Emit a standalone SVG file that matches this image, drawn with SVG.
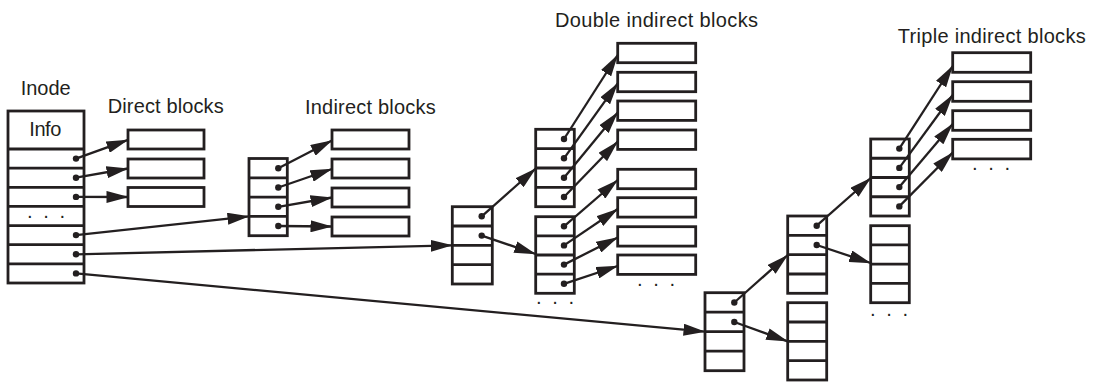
<svg xmlns="http://www.w3.org/2000/svg" width="1097" height="388" viewBox="0 0 1097 388">
<style>
.box{fill:#fff;stroke:#231f20;stroke-width:2.8}
.sep{stroke:#231f20;stroke-width:2.8}
.lbl{font-family:"Liberation Sans",Arial,sans-serif;font-size:20px;fill:#231f20}
.ell{font-family:"Liberation Sans",Arial,sans-serif;font-size:20px;fill:#231f20;letter-spacing:2px}
.arr{stroke:#231f20;stroke-width:2.3;fill:none;marker-start:url(#dot);marker-end:url(#head)}
</style>
<defs>
<marker id="head" markerUnits="userSpaceOnUse" markerWidth="22" markerHeight="12" refX="21.5" refY="6" orient="auto"><path d="M0,0 L22,6 L0,12 Z" fill="#231f20"/></marker>
<marker id="dot" markerUnits="userSpaceOnUse" markerWidth="8" markerHeight="8" refX="4" refY="4"><circle cx="4" cy="4" r="3.2" fill="#231f20"/></marker>
</defs>
<rect width="1097" height="388" fill="#fff"/>

<g id="labels">
<text class="lbl" x="20.7" y="95" textLength="50">Inode</text>
<text class="lbl" x="107.7" y="112.5" textLength="116">Direct blocks</text>
<text class="lbl" x="305" y="114" textLength="130.7">Indirect blocks</text>
<text class="lbl" x="555" y="27.3" textLength="203">Double indirect blocks</text>
<text class="lbl" x="897.7" y="43.3" textLength="188">Triple indirect blocks</text>
</g>

<g id="inode">
<rect class="box" x="8" y="111" width="76" height="172"/>
<line class="sep" x1="8" y1="149" x2="84" y2="149"/>
<line class="sep" x1="8" y1="168.1" x2="84" y2="168.1"/>
<line class="sep" x1="8" y1="187.3" x2="84" y2="187.3"/>
<line class="sep" x1="8" y1="206.4" x2="84" y2="206.4"/>
<line class="sep" x1="8" y1="225.6" x2="84" y2="225.6"/>
<line class="sep" x1="8" y1="244.7" x2="84" y2="244.7"/>
<line class="sep" x1="8" y1="263.9" x2="84" y2="263.9"/>
<text class="lbl" x="29.3" y="136" textLength="32">Info</text>
<text class="ell" x="47" y="222" text-anchor="middle">· · ·</text>
</g>

<g id="direct-blocks">
<rect class="box" x="128" y="130" width="76" height="19"/>
<rect class="box" x="128" y="159" width="76" height="19"/>
<rect class="box" x="128" y="187.5" width="76" height="19"/>
</g>

<g id="single-indirect">
<rect class="box" x="249" y="158.5" width="38.3" height="77.2"/>
<line class="sep" x1="249" y1="177.8" x2="287.3" y2="177.8"/>
<line class="sep" x1="249" y1="197.1" x2="287.3" y2="197.1"/>
<line class="sep" x1="249" y1="216.4" x2="287.3" y2="216.4"/>
</g>

<g id="indirect-blocks">
<rect class="box" x="332" y="130" width="77" height="19"/>
<rect class="box" x="332" y="159" width="77" height="19"/>
<rect class="box" x="332" y="188" width="77" height="19"/>
<rect class="box" x="332" y="217" width="77" height="19"/>
</g>

<g id="double-indirect">
<rect class="box" x="452.3" y="206.7" width="40" height="77.3"/>
<line class="sep" x1="452.3" y1="226" x2="492.3" y2="226"/>
<line class="sep" x1="452.3" y1="245.3" x2="492.3" y2="245.3"/>
<line class="sep" x1="452.3" y1="264.7" x2="492.3" y2="264.7"/>
</g>

<g id="double-l2-upper">
<rect class="box" x="535.7" y="129.3" width="38.6" height="77.4"/>
<line class="sep" x1="535.7" y1="148.7" x2="574.3" y2="148.7"/>
<line class="sep" x1="535.7" y1="168" x2="574.3" y2="168"/>
<line class="sep" x1="535.7" y1="187.4" x2="574.3" y2="187.4"/>
</g>

<g id="double-l2-lower">
<rect class="box" x="535.7" y="216.7" width="38.6" height="76.6"/>
<line class="sep" x1="535.7" y1="235.9" x2="574.3" y2="235.9"/>
<line class="sep" x1="535.7" y1="255" x2="574.3" y2="255"/>
<line class="sep" x1="535.7" y1="274.2" x2="574.3" y2="274.2"/>
<text class="ell" x="556" y="308" text-anchor="middle">· · ·</text>
</g>

<g id="double-data-blocks">
<rect class="box" x="617.7" y="43.3" width="78" height="19.4"/>
<rect class="box" x="617.7" y="72.3" width="78" height="19.4"/>
<rect class="box" x="617.7" y="101" width="78" height="19.4"/>
<rect class="box" x="617.7" y="130" width="78" height="19.4"/>
<rect class="box" x="617.7" y="169.3" width="78" height="19.4"/>
<rect class="box" x="617.7" y="197.7" width="78" height="19.4"/>
<rect class="box" x="617.7" y="226.7" width="78" height="19.4"/>
<rect class="box" x="617.7" y="255" width="78" height="19.4"/>
<text class="ell" x="657" y="290" text-anchor="middle">· · ·</text>
</g>

<g id="triple-indirect">
<rect class="box" x="705" y="292.7" width="39" height="78"/>
<line class="sep" x1="705" y1="312.2" x2="744" y2="312.2"/>
<line class="sep" x1="705" y1="331.7" x2="744" y2="331.7"/>
<line class="sep" x1="705" y1="351.2" x2="744" y2="351.2"/>
</g>

<g id="triple-l2-upper">
<rect class="box" x="787.7" y="216" width="39" height="77.3"/>
<line class="sep" x1="787.7" y1="235.3" x2="826.7" y2="235.3"/>
<line class="sep" x1="787.7" y1="254.7" x2="826.7" y2="254.7"/>
<line class="sep" x1="787.7" y1="274" x2="826.7" y2="274"/>
</g>

<g id="triple-l2-lower">
<rect class="box" x="787.7" y="302.7" width="39" height="77.3"/>
<line class="sep" x1="787.7" y1="322" x2="826.7" y2="322"/>
<line class="sep" x1="787.7" y1="341.4" x2="826.7" y2="341.4"/>
<line class="sep" x1="787.7" y1="360.7" x2="826.7" y2="360.7"/>
</g>

<g id="triple-l3-upper">
<rect class="box" x="870.7" y="139" width="38.6" height="77"/>
<line class="sep" x1="870.7" y1="158.25" x2="909.3" y2="158.25"/>
<line class="sep" x1="870.7" y1="177.5" x2="909.3" y2="177.5"/>
<line class="sep" x1="870.7" y1="196.75" x2="909.3" y2="196.75"/>
</g>

<g id="triple-l3-lower">
<rect class="box" x="870.7" y="225.7" width="38.6" height="77"/>
<line class="sep" x1="870.7" y1="244.95" x2="909.3" y2="244.95"/>
<line class="sep" x1="870.7" y1="264.2" x2="909.3" y2="264.2"/>
<line class="sep" x1="870.7" y1="283.45" x2="909.3" y2="283.45"/>
<text class="ell" x="890" y="320" text-anchor="middle">· · ·</text>
</g>

<g id="triple-data-blocks">
<rect class="box" x="952.7" y="52.7" width="78" height="19.6"/>
<rect class="box" x="952.7" y="81.7" width="78" height="19.6"/>
<rect class="box" x="952.7" y="110.7" width="78" height="19.6"/>
<rect class="box" x="952.7" y="139.3" width="78" height="19.6"/>
<text class="ell" x="992" y="174" text-anchor="middle">· · ·</text>
</g>

<g id="connectors">
<line class="arr" x1="76" y1="158.6" x2="128" y2="139.8"/>
<line class="arr" x1="76" y1="177.7" x2="128" y2="168.5"/>
<line class="arr" x1="76" y1="196.9" x2="128" y2="197"/>
<line class="arr" x1="76" y1="235.1" x2="249" y2="216.4"/>
<line class="arr" x1="76" y1="254.3" x2="452.3" y2="245.3"/>
<line class="arr" x1="76" y1="273.4" x2="705" y2="331.7"/>

<line class="arr" x1="278.3" y1="168.2" x2="332" y2="140.5"/>
<line class="arr" x1="278.3" y1="187.5" x2="332" y2="169"/>
<line class="arr" x1="278.3" y1="206.8" x2="332" y2="197.5"/>
<line class="arr" x1="278.3" y1="226" x2="332" y2="226.5"/>

<line class="arr" x1="481.7" y1="216.3" x2="535.7" y2="168.5"/>
<line class="arr" x1="481.7" y1="235.6" x2="535.7" y2="254"/>

<line class="arr" x1="564" y1="139" x2="617.7" y2="55"/>
<line class="arr" x1="564" y1="158.3" x2="617.7" y2="83.3"/>
<line class="arr" x1="564" y1="177.7" x2="617.7" y2="112.5"/>
<line class="arr" x1="564" y1="197" x2="617.7" y2="141.5"/>
<line class="arr" x1="564" y1="226.3" x2="617.7" y2="180"/>
<line class="arr" x1="564" y1="245.4" x2="617.7" y2="209"/>
<line class="arr" x1="564" y1="264.6" x2="617.7" y2="237.5"/>
<line class="arr" x1="564" y1="283.8" x2="617.7" y2="266"/>

<line class="arr" x1="734.3" y1="302.5" x2="787.7" y2="255"/>
<line class="arr" x1="734.3" y1="322" x2="787.7" y2="341.4"/>

<line class="arr" x1="816.7" y1="225.7" x2="870.7" y2="178"/>
<line class="arr" x1="816.7" y1="245" x2="870.7" y2="263"/>

<line class="arr" x1="899.3" y1="148.6" x2="952.7" y2="66"/>
<line class="arr" x1="899.3" y1="167.9" x2="952.7" y2="95"/>
<line class="arr" x1="899.3" y1="187.1" x2="952.7" y2="124"/>
<line class="arr" x1="899.3" y1="206.4" x2="952.7" y2="152.5"/>
</g>
</svg>
